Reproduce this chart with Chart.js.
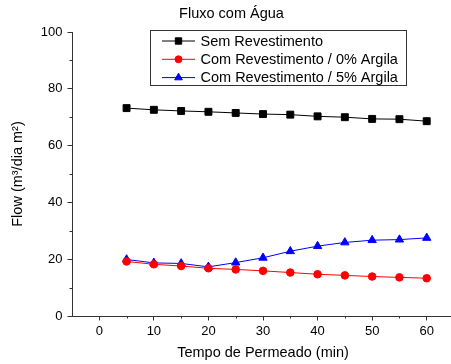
<!DOCTYPE html>
<html><head><meta charset="utf-8">
<script src="https://cdn.jsdelivr.net/npm/chart.js@4"></script>
<style>html,body{margin:0;padding:0;overflow:hidden;background:#fff}canvas{display:block}</style>
</head><body>
<canvas id="c" width="460" height="364"></canvas>
<script>
const tempo = [5,10,15,20,25,30,35,40,45,50,55,60];
const semRevestimento = [73.2,72.6,72.2,71.9,71.5,71.1,70.9,70.3,70.0,69.4,69.3,68.6];
const argila0 = [19.2,18.2,17.6,16.8,16.4,15.9,15.3,14.7,14.3,13.9,13.6,13.3];
const argila5 = [19.9,18.7,18.5,17.3,18.8,20.5,22.8,24.6,25.9,26.7,26.9,27.5];
const seriesNames = ['Sem Revestimento','Com Revestimento / 0% Argila','Com Revestimento / 5% Argila'];
const xMajorTicks = [0,10,20,30,40,50,60];
const xMinorTicks = [5,15,25,35,45,55];
const yMajorTicks = [0,20,40,60,80,100];
const yMinorTicks = [10,30,50,70,90];
const chartTitle = 'Fluxo com Água';
const xTitle = 'Tempo de Permeado (min)';
const yTitle = 'Flow (m³/dia m²)';

const FAMILY = '"Liberation Sans", Arial, sans-serif';
const AXIS = '#333';

function pts(xs, ys){ return xs.map((x,i)=>({x:x, y:ys[i]})); }

function drawMarker(ctx, style, r, x, y, color){
  if (Chart.helpers && Chart.helpers.drawPoint){
    ctx.fillStyle = color; ctx.strokeStyle = color; ctx.lineWidth = 1;
    Chart.helpers.drawPoint(ctx, {pointStyle: style, radius: r, rotation: 0, borderWidth: 1}, x, y);
    return;
  }
  ctx.fillStyle = color; ctx.beginPath();
  if (style === 'rect'){ const s = r*Math.SQRT1_2; ctx.rect(x-s,y-s,2*s,2*s); }
  else if (style === 'triangle'){ ctx.moveTo(x, y-r); ctx.lineTo(x+r*0.866, y+r*0.5); ctx.lineTo(x-r*0.866, y+r*0.5); ctx.closePath(); }
  else { ctx.arc(x,y,r,0,Math.PI*2); }
  ctx.fill();
}

const minorTicks = {
  id: 'minorTicks',
  afterDraw(chart){
    const ctx = chart.ctx, xs = chart.scales.x, ys = chart.scales.y;
    ctx.save(); ctx.strokeStyle = AXIS; ctx.lineWidth = 1; ctx.beginPath();
    xMinorTicks.forEach(v=>{ const px = Math.round(xs.getPixelForValue(v))+0.5; ctx.moveTo(px, xs.top); ctx.lineTo(px, xs.top+2.5); });
    yMinorTicks.forEach(v=>{ const py = Math.round(ys.getPixelForValue(v))+0.5; ctx.moveTo(ys.right, py); ctx.lineTo(ys.right-2.5, py); });
    ctx.stroke(); ctx.restore();
  }
};

const boxLegend = {
  id: 'boxLegend',
  afterDatasetsDraw(chart, args, o){
    const ctx = chart.ctx, a = chart.chartArea;
    const x0 = Math.round(a.left + o.offsetX) + 0.5, y0 = Math.round(a.top + o.offsetY) + 0.5;
    ctx.save();
    ctx.fillStyle = '#fff';
    ctx.fillRect(x0, y0, o.width, o.height);
    ctx.strokeStyle = AXIS; ctx.lineWidth = 1;
    ctx.strokeRect(x0, y0, o.width, o.height);
    ctx.font = o.fontSize + 'px ' + FAMILY;
    ctx.textBaseline = 'middle'; ctx.textAlign = 'left';
    chart.data.datasets.forEach((d, i)=>{
      const y = y0 + o.firstRow + i*o.rowH;
      ctx.strokeStyle = d.borderColor; ctx.lineWidth = 1;
      ctx.beginPath(); ctx.moveTo(x0 + o.lineStart, y); ctx.lineTo(x0 + o.lineStart + o.lineLen, y); ctx.stroke();
      drawMarker(ctx, d.pointStyle, d.pointRadius*0.92, x0 + o.lineStart + o.lineLen/2, y, d.backgroundColor);
      ctx.fillStyle = '#000';
      ctx.fillText(d.label, x0 + o.textStart, y + 0.5);
    });
    ctx.restore();
  }
};

function ds(label, data, color, style, r){
  return { label: label, data: pts(tempo, data), borderColor: color, backgroundColor: color,
    pointBackgroundColor: color, pointBorderColor: color, borderWidth: 1, pointStyle: style,
    pointRadius: r, pointBorderWidth: 1, tension: 0, fill: false };
}

new Chart(document.getElementById('c'), {
  type: 'line',
  data: { datasets: [
    ds(seriesNames[0], semRevestimento, '#000000', 'rect', 4.9),
    ds(seriesNames[1], argila0, '#ff0000', 'circle', 3.8),
    ds(seriesNames[2], argila5, '#0000ff', 'triangle', 4.8)
  ]},
  options: {
    responsive: false, animation: false, devicePixelRatio: 1,
    layout: { padding: { left: 9, right: 6, top: 0, bottom: 0 } },
    plugins: {
      legend: { display: false }, tooltip: { enabled: false },
      title: { display: true, text: chartTitle, color: '#000',
        font: { family: FAMILY, size: 14.5, weight: 'normal' }, padding: { top: 5, bottom: 9.6 } },
      boxLegend: { offsetX: 77.5, offsetY: -2, width: 256, height: 55, firstRow: 10.5, rowH: 18.3,
        lineStart: 11.5, lineLen: 33, textStart: 50, fontSize: 14.5 }
    },
    scales: {
      x: { type: 'linear', min: -5, max: 65,
        afterBuildTicks: ax => { ax.ticks = xMajorTicks.map(v => ({ value: v })); },
        afterFit: ax => { ax.height = 48; },
        grid: { display: true, drawOnChartArea: false, drawTicks: true, tickLength: 4.5, color: AXIS },
        border: { display: true, color: AXIS, width: 1 },
        ticks: { color: '#000', font: { family: FAMILY, size: 13 }, padding: 3, maxRotation: 0, autoSkip: false },
        title: { display: true, text: xTitle, color: '#000', font: { family: FAMILY, size: 14.5 }, padding: { top: 0, bottom: 2.3 } }
      },
      y: { type: 'linear', min: 0, max: 100,
        afterBuildTicks: ax => { ax.ticks = yMajorTicks.map(v => ({ value: v })); },
        afterFit: ax => { ax.width = 63; },
        grid: { display: true, drawOnChartArea: false, drawTicks: true, tickLength: 4.5, color: AXIS },
        border: { display: true, color: AXIS, width: 1 },
        ticks: { color: '#000', font: { family: FAMILY, size: 13 }, padding: 5, autoSkip: false },
        title: { display: true, text: yTitle, color: '#000', font: { family: FAMILY, size: 14.5 }, padding: { top: 0, bottom: 0 } }
      }
    }
  },
  plugins: [minorTicks, boxLegend]
});
</script>
</body></html>
